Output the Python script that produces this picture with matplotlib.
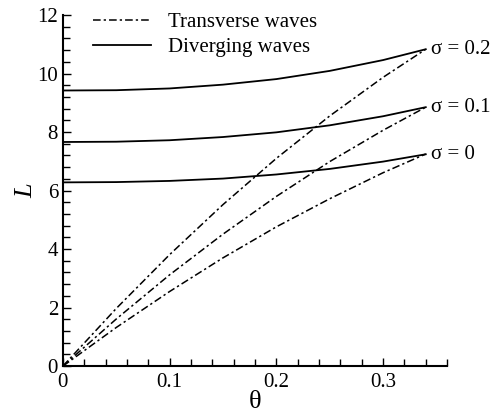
import numpy as np
import matplotlib
matplotlib.use('Agg')
import matplotlib.pyplot as plt
from matplotlib.ticker import MultipleLocator

plt.rcParams['font.family'] = ['Liberation Serif', 'DejaVu Serif']

# angle values (rad) where the curves were read
theta = [0.0, 0.05, 0.10, 0.15, 0.20, 0.25, 0.30, 0.34]

sigmas = ['0', '0.1', '0.2']

# transverse waves (dash-dot)
trans_s0 = [0.0, 1.32, 2.55, 3.70, 4.76, 5.72, 6.61, 7.25]
trans_s1 = [0.0, 1.61, 3.12, 4.51, 5.80, 6.99, 8.06, 8.85]
trans_s2 = [0.0, 1.97, 3.81, 5.52, 7.10, 8.55, 9.87, 10.83]

# diverging waves (solid)
div_s0 = [6.28, 6.29, 6.33, 6.41, 6.55, 6.74, 6.99, 7.24]
div_s1 = [7.66, 7.67, 7.72, 7.83, 7.99, 8.23, 8.54, 8.85]
div_s2 = [9.42, 9.43, 9.49, 9.62, 9.81, 10.09, 10.46, 10.83]

trans = [trans_s0, trans_s1, trans_s2]
div = [div_s0, div_s1, div_s2]

fig = plt.figure(figsize=(4.99, 4.17), dpi=100)
ax = fig.add_axes([0.126, 0.122, 0.77, 0.842])

dashdot = (0, (5, 2, 1.5, 2))
for i in range(3):
    ax.plot(theta, trans[i], color='black', lw=1.1, linestyle=dashdot,
            label='Transverse waves' if i == 0 else None)
    ax.plot(theta, div[i], color='black', lw=1.3,
            label='Diverging waves' if i == 0 else None)
    ax.text(theta[-1] + 0.005, div[i][-1], '\u03c3 = ' + sigmas[i],
            fontsize=15, va='center', ha='left')

ax.set_xlim(0, 0.36)
ax.set_ylim(0, 12)
ax.xaxis.set_major_locator(MultipleLocator(0.1))
ax.xaxis.set_minor_locator(MultipleLocator(0.02))
ax.yaxis.set_major_locator(MultipleLocator(2))
ax.yaxis.set_minor_locator(MultipleLocator(0.4))
ax.set_xticks([0, 0.1, 0.2, 0.3])
ax.set_xticklabels(['0', '0.1', '0.2', '0.3'])
ax.tick_params(which='both', direction='in', labelsize=15, width=1)
ax.tick_params(which='major', length=6)
ax.tick_params(which='minor', length=5)
ax.tick_params(axis='x', pad=5)
for s in ['top', 'right']:
    ax.spines[s].set_visible(False)
for s in ['left', 'bottom']:
    ax.spines[s].set_linewidth(1.5)

ax.set_xlabel('\u03b8', fontsize=19, labelpad=-1)
ax.set_ylabel('L', fontsize=19, style='italic', labelpad=0)

ax.legend(loc='upper left', bbox_to_anchor=(0.03, 1.06), frameon=False,
          fontsize=15, handlelength=2.8, handletextpad=0.8, labelspacing=0.25)

fig.savefig('out.png', dpi=100)
